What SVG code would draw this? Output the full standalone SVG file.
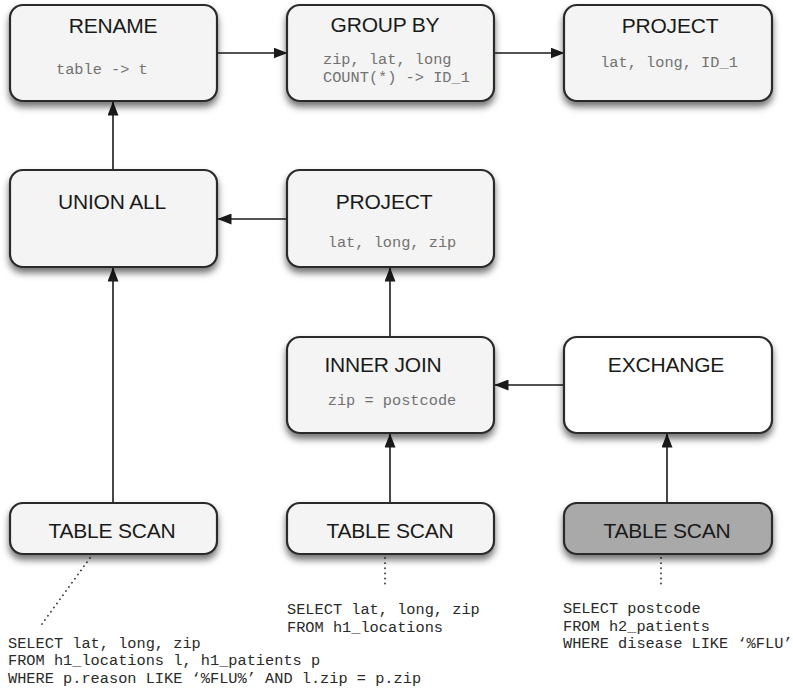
<svg xmlns="http://www.w3.org/2000/svg" width="793" height="689" viewBox="0 0 793 689">
  <defs>
    <filter id="shadow" x="-10%" y="-20%" width="120%" height="150%">
      <feDropShadow dx="0" dy="5" stdDeviation="3.5" flood-color="#000" flood-opacity="0.55"/>
    </filter>
    <marker id="arrow" viewBox="0 0 14 11" refX="13.5" refY="5.5" markerWidth="14" markerHeight="11" markerUnits="userSpaceOnUse" orient="auto">
      <path d="M0,0 L14,5.5 L0,11 Z" fill="#1a1a1a"/>
    </marker>
  </defs>
  <style>
    .box { fill: #f4f4f4; stroke: #2a2a2a; stroke-width: 2.2; filter: url(#shadow); }
    .white { fill: #ffffff; }
    .dark { fill: #a9a9a9; }
    .title { font-family: "Liberation Sans", Arial, Helvetica, sans-serif; font-size: 21px; fill: #1a1a1a; text-anchor: middle; letter-spacing: -0.2px; }
    .code { font-family: "Liberation Mono", "Courier New", monospace; font-size: 15.3px; fill: #727272; }
    .sql { font-family: "Liberation Mono", "Courier New", monospace; font-size: 15.3px; fill: #2a2a2a; }
    .edge { stroke: #1a1a1a; stroke-width: 1.6; fill: none; marker-end: url(#arrow); }
    .dots { stroke: #333; stroke-width: 1.8; fill: none; stroke-linecap: round; stroke-dasharray: 0.1 5; }
  </style>

  <rect width="793" height="689" fill="#ffffff"/>

  <!-- connectors -->
  <g id="connectors">
    <line class="edge" x1="218" y1="53" x2="287" y2="53"/>
    <line class="edge" x1="494" y1="53" x2="564" y2="53"/>
    <line class="edge" x1="113" y1="170" x2="113" y2="102"/>
    <line class="edge" x1="287" y1="219" x2="218" y2="219"/>
    <line class="edge" x1="113" y1="503" x2="113" y2="268"/>
    <line class="edge" x1="390" y1="337" x2="390" y2="268"/>
    <line class="edge" x1="563" y1="385" x2="495" y2="385"/>
    <line class="edge" x1="390" y1="503" x2="390" y2="434"/>
    <line class="edge" x1="667" y1="503" x2="667" y2="434"/>
    <!-- dotted annotation leaders -->
    <line class="dots" x1="90" y1="558" x2="42" y2="624"/>
    <line class="dots" x1="385" y1="558" x2="385" y2="588"/>
    <line class="dots" x1="661" y1="558" x2="661" y2="588"/>
  </g>

  <!-- top row -->
  <g id="rename">
    <rect class="box" x="10" y="5" width="207" height="96" rx="13"/>
    <text class="title" x="113" y="33">RENAME</text>
    <text class="code" x="56" y="74">table -&gt; t</text>
  </g>
  <g id="group-by">
    <rect class="box" x="287" y="5" width="207" height="96" rx="13"/>
    <text class="title" x="385" y="32">GROUP BY</text>
    <text class="code" x="323" y="64">zip, lat, long</text>
    <text class="code" x="323" y="82">COUNT(*) -&gt; ID_1</text>
  </g>
  <g id="project-top">
    <rect class="box" x="564" y="5" width="208" height="96" rx="13"/>
    <text class="title" x="670" y="33">PROJECT</text>
    <text class="code" x="669" y="67" text-anchor="middle">lat, long, ID_1</text>
  </g>

  <!-- second row -->
  <g id="union-all">
    <rect class="box" x="10" y="170" width="207" height="97" rx="13"/>
    <text class="title" x="112" y="209">UNION ALL</text>
  </g>
  <g id="project-mid">
    <rect class="box" x="287" y="170" width="207" height="97" rx="13"/>
    <text class="title" x="384" y="209">PROJECT</text>
    <text class="code" x="392" y="247" text-anchor="middle">lat, long, zip</text>
  </g>

  <!-- third row -->
  <g id="inner-join">
    <rect class="box" x="287" y="337" width="207" height="96" rx="13"/>
    <text class="title" x="383" y="372">INNER JOIN</text>
    <text class="code" x="392" y="405" text-anchor="middle">zip = postcode</text>
  </g>
  <g id="exchange">
    <rect class="box white" x="564" y="337" width="208" height="96" rx="13"/>
    <text class="title" x="666" y="372">EXCHANGE</text>
  </g>

  <!-- scans -->
  <g id="scan-left">
    <rect class="box" x="10" y="503" width="207" height="51" rx="13"/>
    <text class="title" x="112" y="538">TABLE SCAN</text>
  </g>
  <g id="scan-mid">
    <rect class="box" x="287" y="503" width="207" height="51" rx="13"/>
    <text class="title" x="390" y="538">TABLE SCAN</text>
  </g>
  <g id="scan-right">
    <rect class="box dark" x="564" y="503" width="208" height="51" rx="13"/>
    <text class="title" x="667" y="538">TABLE SCAN</text>
  </g>

  <!-- scan queries -->
  <g id="sql-left">
    <text class="sql" x="8" y="648">SELECT lat, long, zip</text>
    <text class="sql" x="8" y="665">FROM h1_locations l, h1_patients p</text>
    <text class="sql" x="8" y="683">WHERE p.reason LIKE ‘%FLU%’ AND l.zip = p.zip</text>
  </g>
  <g id="sql-mid">
    <text class="sql" x="287" y="614">SELECT lat, long, zip</text>
    <text class="sql" x="287" y="632">FROM h1_locations</text>
  </g>
  <g id="sql-right">
    <text class="sql" x="563" y="613">SELECT postcode</text>
    <text class="sql" x="563" y="631">FROM h2_patients</text>
    <text class="sql" x="563" y="648">WHERE disease LIKE ‘%FLU’</text>
  </g>
</svg>
